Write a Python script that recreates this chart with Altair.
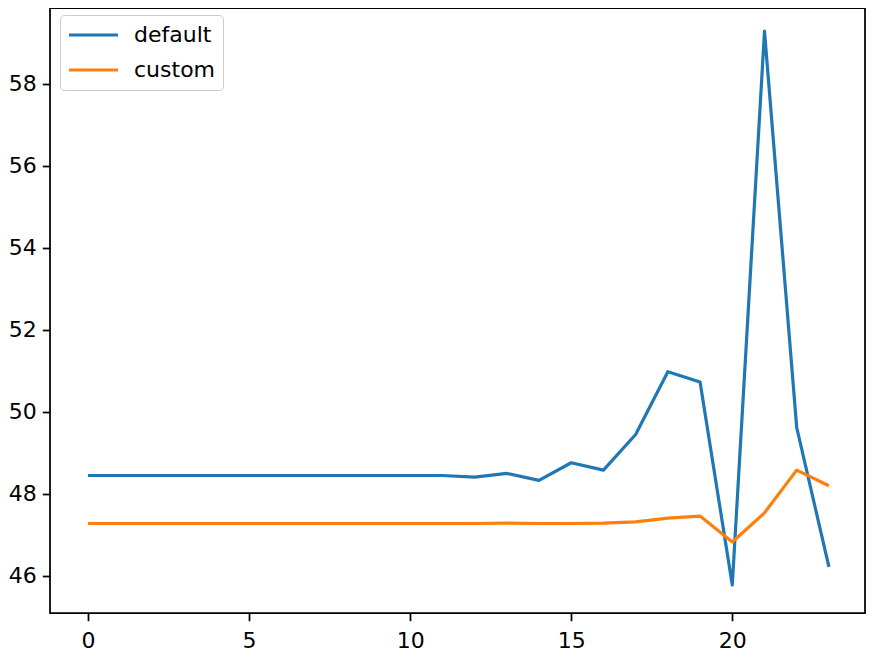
import altair as alt
import pandas as pd

x_vals = list(range(24))
default_vals = [48.45, 48.45, 48.45, 48.45, 48.45, 48.45, 48.45, 48.45, 48.45, 48.45,
                48.45, 48.45, 48.41, 48.50, 48.33, 48.76, 48.58, 49.45, 50.98, 50.73,
                45.78, 59.28, 49.62, 46.22]
custom_vals = [47.28, 47.28, 47.28, 47.28, 47.28, 47.28, 47.28, 47.28, 47.28, 47.28,
               47.28, 47.28, 47.28, 47.29, 47.28, 47.28, 47.29, 47.32, 47.41, 47.46,
               46.83, 47.54, 48.58, 48.20]
series_names = ["default", "custom"]
series_colors = ["#1f77b4", "#ff7f0e"]
x_ticks = [0, 5, 10, 15, 20]
y_ticks = [46, 48, 50, 52, 54, 56, 58]

rows = []
for name, vals in zip(series_names, [default_vals, custom_vals]):
    for xv, yv in zip(x_vals, vals):
        rows.append({"x": xv, "value": yv, "series": name})
df = pd.DataFrame(rows)

FONT = "DejaVu Sans"

chart = alt.Chart(df).mark_line(strokeWidth=3.2, strokeJoin="round").encode(
    x=alt.X("x:Q",
            scale=alt.Scale(domain=[-1.18, 24.12], nice=False, zero=False),
            axis=alt.Axis(values=x_ticks, title=None, grid=False, domain=False,
                          labelPadding=10, format="d")),
    y=alt.Y("value:Q",
            scale=alt.Scale(domain=[45.098, 59.846], nice=False, zero=False),
            axis=alt.Axis(values=y_ticks, title=None, grid=False, domain=False,
                          labelPadding=6, format="d")),
    color=alt.Color("series:N",
                    sort=series_names,
                    scale=alt.Scale(domain=series_names, range=series_colors),
                    legend=alt.Legend(title=None, orient="none", legendX=10, legendY=7,
                                      symbolType="stroke", symbolSize=2401,
                                      symbolStrokeWidth=3.2, labelFontSize=22,
                                      labelFont=FONT, labelColor="black", labelOffset=14,
                                      padding=7, rowPadding=9, clipHeight=26,
                                      strokeColor="#cccccc", fillColor="white",
                                      cornerRadius=4)),
    order=alt.Order("x:Q"),
).properties(
    width=815,
    height=605,
    autosize=alt.AutoSizeParams(type="none"),
    padding={"left": 42, "top": 0, "right": 4, "bottom": 49},
).configure_view(
    stroke="black", strokeWidth=1.75
).configure_axis(
    labelFont=FONT, labelFontSize=22, labelColor="black",
    tickColor="black", tickWidth=1.75, tickSize=7.7,
)

chart.save("out.html", embed_options={"renderer": "svg", "actions": False})
